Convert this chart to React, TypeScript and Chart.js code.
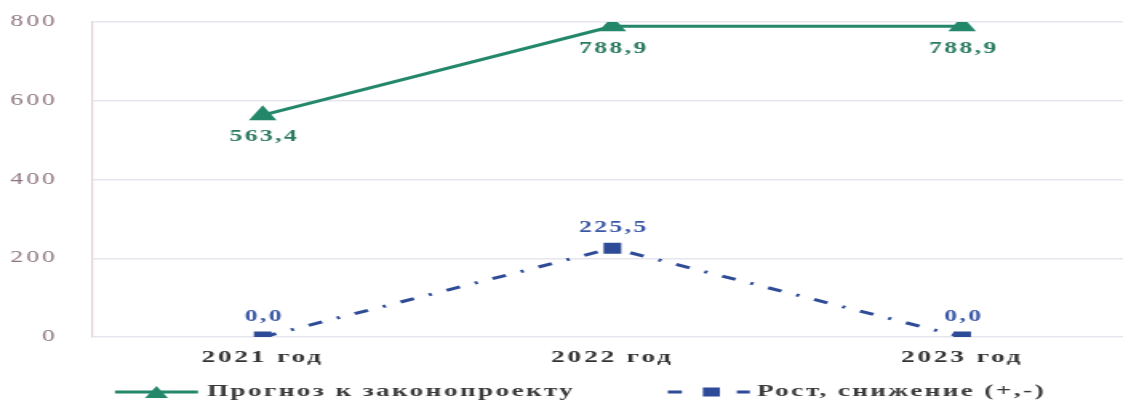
import React, { useEffect, useRef } from 'react';
import { Chart, registerables } from 'chart.js';

Chart.register(...registerables);

const categories = ['2021 год', '2022 год', '2023 год'];
const forecast = [563.4, 788.9, 788.9];
const change = [0.0, 225.5, 0.0];
const seriesNames = ['Прогноз к законопроекту', 'Рост, снижение (+,-)'];
const yTicks = [0, 200, 400, 600, 800];

// The reference is horizontally stretched; the canvas is drawn narrower and shown wider.
const OUT_W = 1123;
const OUT_H = 402;
const STRETCH = 1.6;
const W = Math.round(OUT_W / STRETCH);

const GREEN = '#23876a';
const GREEN_LABEL = '#2b7a62';
const BLUE = '#2d4b96';
const BLUE_LABEL = '#3b58a6';
const FONT = '"Liberation Serif", "Times New Roman", serif';

const fmt = (v: number) => v.toFixed(1).replace('.', ',');

const spacingPlugin = {
  id: 'spacing',
  beforeUpdate(chart: any) {
    chart.ctx.letterSpacing = '1.8px';
  },
  beforeDraw(chart: any) {
    chart.ctx.letterSpacing = '1.8px';
  },
};

const dataLabelPlugin = {
  id: 'dataLabels',
  afterDatasetsDraw(chart: any) {
    const ctx = chart.ctx;
    chart.data.datasets.forEach((ds: any, i: number) => {
      const meta = chart.getDatasetMeta(i);
      meta.data.forEach((pt: any, j: number) => {
        const v = ds.data[j].y;
        ctx.save();
        ctx.letterSpacing = '1.5px';
        ctx.font = `bold 16px ${FONT}`;
        ctx.fillStyle = i === 0 ? GREEN_LABEL : BLUE_LABEL;
        ctx.textAlign = 'center';
        ctx.textBaseline = 'middle';
        ctx.fillText(fmt(v), pt.x + 1, pt.y + (i === 0 ? 22 : -20));
        ctx.restore();
      });
    });
  },
};

const legendPlugin = {
  id: 'customLegend',
  afterDraw(chart: any) {
    const ctx = chart.ctx;
    const y = 392;
    const names = chart.data.datasets.map((d: any) => d.label);
    const sx = (v: number) => v / STRETCH;
    ctx.save();
    ctx.strokeStyle = GREEN;
    ctx.lineWidth = 3;
    ctx.beginPath();
    ctx.moveTo(sx(115), y);
    ctx.lineTo(sx(198), y);
    ctx.stroke();
    ctx.fillStyle = GREEN;
    ctx.beginPath();
    ctx.moveTo(sx(156.5), y - 6);
    ctx.lineTo(sx(168), y + 6);
    ctx.lineTo(sx(145), y + 6);
    ctx.closePath();
    ctx.fill();
    ctx.strokeStyle = BLUE;
    ctx.beginPath();
    ctx.moveTo(sx(668), y);
    ctx.lineTo(sx(682), y);
    ctx.moveTo(sx(737), y);
    ctx.lineTo(sx(750), y);
    ctx.stroke();
    ctx.fillStyle = BLUE;
    ctx.fillRect(sx(703), y - 4.5, sx(17), 9);
    ctx.letterSpacing = '1.5px';
    ctx.font = `bold 17px ${FONT}`;
    ctx.fillStyle = '#3a3a3a';
    ctx.textAlign = 'left';
    ctx.textBaseline = 'middle';
    ctx.fillText(names[0], sx(207), y);
    ctx.fillText(names[1], sx(757), y);
    ctx.restore();
  },
};

export default function App() {
  const ref = useRef<HTMLCanvasElement | null>(null);

  useEffect(() => {
    document.body.style.margin = '0';
    const canvas = ref.current;
    if (!canvas) return;
    const chart = new Chart(canvas, {
      type: 'line',
      data: {
        datasets: [
          {
            label: seriesNames[0],
            data: forecast.map((v, i) => ({ x: i, y: v })),
            borderColor: GREEN,
            backgroundColor: GREEN,
            borderWidth: 3,
            pointStyle: 'triangle',
            pointRadius: 7,
            pointHoverRadius: 7,
            tension: 0,
          },
          {
            label: seriesNames[1],
            data: change.map((v, i) => ({ x: i, y: v })),
            borderColor: BLUE,
            backgroundColor: BLUE,
            borderWidth: 3,
            borderDash: [9, 10, 2, 10],
            pointStyle: 'rect',
            pointRadius: 5.7,
            pointHoverRadius: 5.7,
            tension: 0,
          },
        ],
      },
      options: {
        animation: false,
        responsive: false,
        maintainAspectRatio: false,
        devicePixelRatio: 1,
        layout: { autoPadding: false, padding: { top: 22, right: 0, bottom: 35, left: 0 } },
        plugins: {
          legend: { display: false },
          tooltip: { enabled: false },
        },
        scales: {
          x: {
            type: 'linear',
            min: -0.486,
            max: 2.46,
            afterBuildTicks: (s: any) => {
              s.ticks = categories.map((_, i) => ({ value: i }));
            },
            afterFit: (s: any) => {
              s.height = 30;
              s.paddingLeft = 0;
              s.paddingRight = 0;
            },
            ticks: {
              callback: (v: any) => categories[v as number],
              font: { family: FONT, size: 17, weight: 'bold' },
              color: '#333333',
              padding: 2,
              maxRotation: 0,
            },
            grid: { display: false },
            border: { display: false },
          },
          y: {
            min: 0,
            max: 800,
            afterBuildTicks: (s: any) => {
              s.ticks = yTicks.map((v) => ({ value: v }));
            },
            afterFit: (s: any) => {
              s.width = 58;
              s.paddingTop = 0;
              s.paddingBottom = 0;
            },
            ticks: {
              font: { family: FONT, size: 16 },
              color: '#8e7480',
              padding: 22,
            },
            grid: { color: '#e6e6ef', lineWidth: 1.5, drawTicks: false },
            border: { color: '#e6d0d8', width: 1.2 },
          },
        },
      },
      plugins: [spacingPlugin, dataLabelPlugin, legendPlugin],
    });
    return () => chart.destroy();
  }, []);

  return (
    <div style={{ width: OUT_W, height: OUT_H }}>
      <canvas
        ref={ref}
        width={W}
        height={OUT_H}
        style={{ display: 'block', width: OUT_W + 'px', height: OUT_H + 'px' }}
      />
    </div>
  );
}
